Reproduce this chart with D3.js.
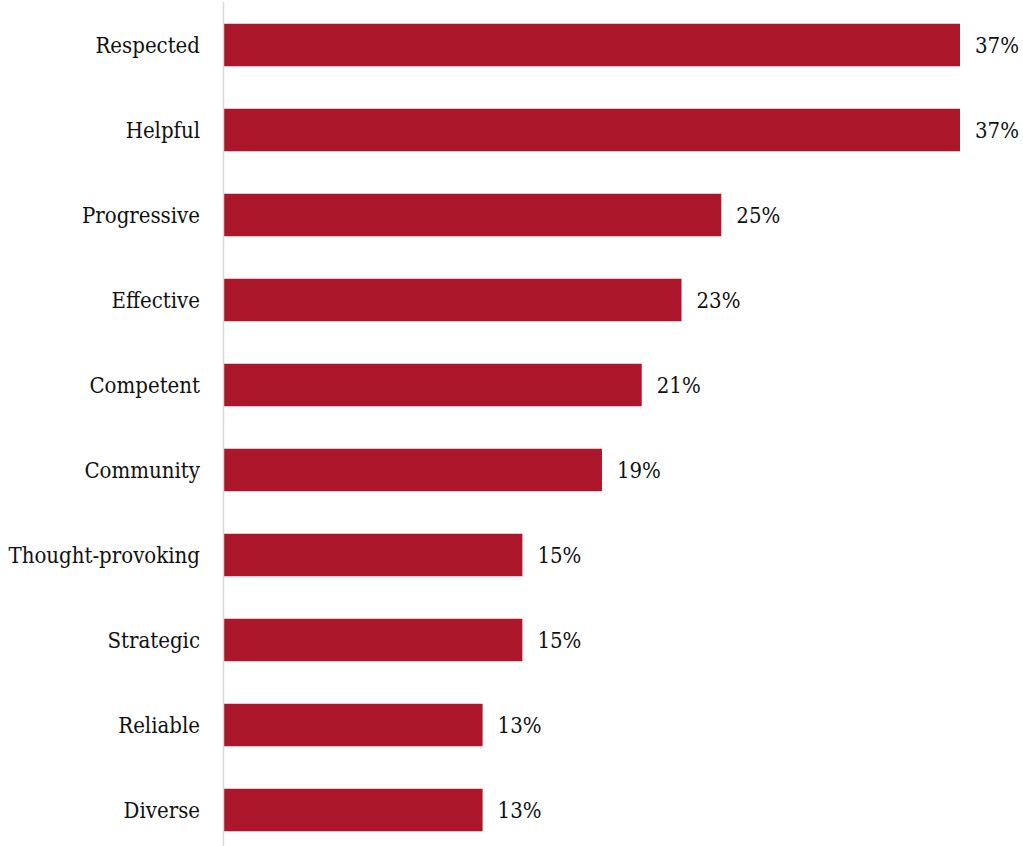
<!DOCTYPE html>
<html>
<head>
<meta charset="utf-8">
<script src="https://cdn.jsdelivr.net/npm/d3@7"></script>
<style>
  html, body { margin: 0; padding: 0; background: #fff; }
  svg { display: block; }
  text { font-stretch: semi-condensed; }
</style>
</head>
<body>
<svg id="chart" width="1023" height="846"></svg>
<script>
// Share of respondents choosing each attribute (%)
const categories = ["Respected", "Helpful", "Progressive", "Effective", "Competent",
                    "Community", "Thought-provoking", "Strategic", "Reliable", "Diverse"];
const values = [37, 37, 25, 23, 21, 19, 15, 15, 13, 13];

const width = 1023, height = 846;
const svg = d3.select("#chart");
const fontFamily = "'DejaVu Serif Condensed', 'DejaVu Serif', 'Liberation Serif', serif";

// size the label font so the longest category fits the left margin
const probe = svg.append("text").attr("font-family", fontFamily).attr("font-size", 20)
  .text("Thought-provoking");
const probeW = probe.node().getComputedTextLength();
probe.remove();
const fontSize = Math.min(22, 20 * 197 / probeW);

const axisX = 223.5;
const x = d3.scaleLinear().domain([0, 37]).range([axisX + 0.5, 960]);
const y = d3.scaleBand().domain(categories).range([2.5, 852.5]).paddingInner(0.5).paddingOuter(0.25);

const data = categories.map((c, i) => ({ cat: c, val: values[i] }));

// bars
svg.append("g").selectAll("rect").data(data).join("rect")
  .attr("x", x(0))
  .attr("y", d => y(d.cat))
  .attr("width", d => x(d.val) - x(0))
  .attr("height", y.bandwidth())
  .attr("fill", "#AB162B");

// vertical category axis line
svg.append("line")
  .attr("x1", axisX).attr("x2", axisX)
  .attr("y1", 2).attr("y2", height)
  .attr("stroke", "#d9d9d9").attr("stroke-width", 1.5);

// category labels
svg.append("g").selectAll("text").data(data).join("text")
  .attr("x", 200)
  .attr("y", d => y(d.cat) + y.bandwidth() / 2)
  .attr("dy", "0.35em")
  .attr("text-anchor", "end")
  .attr("font-family", fontFamily)
  .attr("font-size", fontSize)
  .attr("fill", "#111")
  .text(d => d.cat);

// value labels
svg.append("g").selectAll("text").data(data).join("text")
  .attr("x", d => x(d.val) + 15)
  .attr("y", d => y(d.cat) + y.bandwidth() / 2)
  .attr("dy", "0.35em")
  .attr("font-family", fontFamily)
  .attr("font-size", fontSize)
  .attr("fill", "#111")
  .text(d => d.val + "%");
</script>
</body>
</html>
